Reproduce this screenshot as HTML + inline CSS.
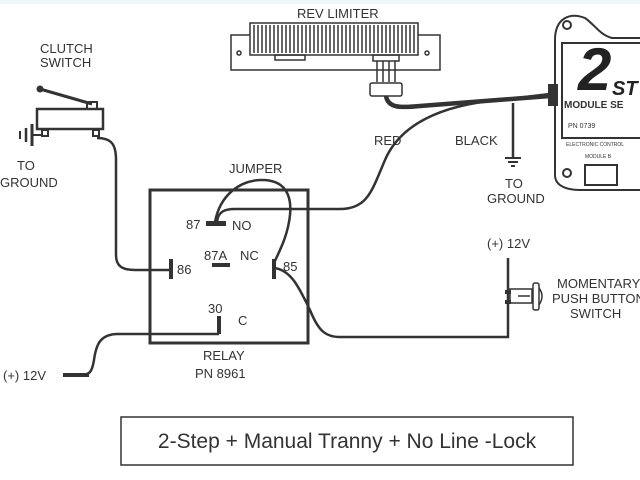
<!DOCTYPE html>
<html><head><style>
html,body{margin:0;padding:0;background:#fff}
svg{display:block}
text{font-family:"Liberation Sans",sans-serif;fill:#333}
</style></head><body>
<svg width="640" height="480" viewBox="0 0 640 480">
<rect x="0" y="0" width="640" height="4" fill="#eef8fb"/>
<g fill="none" stroke="#333" stroke-width="2.5">
<rect x="150" y="190" width="158" height="153" stroke-width="3"/>
<path d="M97,138 C112,138 116,145 116,160 L116,255 C116,266 122,270 135,270 L171,270"/>
<path d="M219,334 L118,334 C100,334 96,345 94,360 C92,372 90,375 80,375 L63,375"/>
<path d="M217,222 C218,212 224,209 235,209 L340,209 C368,209 372,190 385,160 C400,125 440,105 500,100 L550,94"/>
<path d="M215,222 C220,195 240,180 262,180 C285,180 292,195 290,215 C288,235 280,250 274,263"/>
<path d="M274,268 C292,270 300,290 310,310 C318,330 325,337 340,337 L508,337 L508,258"/>
<path d="M386,96 C388,108 400,108 420,106 L550,96" stroke-width="4.5"/>
<path d="M513,103 L513,157"/>
</g>
<g fill="#333">
<rect x="206" y="221" width="20" height="5"/>
<rect x="212" y="263" width="18" height="4"/>
<rect x="169" y="259" width="4" height="20"/>
<rect x="272" y="259" width="4" height="20"/>
<rect x="217" y="316" width="4" height="18"/>
<rect x="63" y="373" width="26" height="4"/>
<rect x="505" y="157" width="16" height="2"/>
<rect x="508" y="161" width="10" height="2"/>
<rect x="511" y="165" width="4" height="2"/>
</g>
<text x="186" y="229" font-size="13">87</text>
<text x="232" y="230" font-size="13">NO</text>
<text x="204" y="260" font-size="13">87A</text>
<text x="240" y="260" font-size="13">NC</text>
<text x="177" y="274" font-size="13">86</text>
<text x="283" y="271" font-size="13">85</text>
<text x="208" y="313" font-size="13">30</text>
<text x="238" y="325" font-size="13">C</text>
<text x="203" y="360" font-size="13">RELAY</text>
<text x="195" y="378" font-size="13">PN 8961</text>
<text x="229" y="173" font-size="13">JUMPER</text>
<text x="3" y="380" font-size="13">(+) 12V</text>
<text x="40" y="53" font-size="13">CLUTCH</text>
<text x="40" y="67" font-size="13">SWITCH</text>
<text x="17" y="170" font-size="13">TO</text>
<text x="0" y="187" font-size="13">GROUND</text>
<text x="297" y="18" font-size="13">REV LIMITER</text>
<text x="374" y="145" font-size="13">RED</text>
<text x="455" y="145" font-size="13">BLACK</text>
<text x="505" y="188" font-size="13">TO</text>
<text x="487" y="203" font-size="13">GROUND</text>
<text x="487" y="248" font-size="13">(+) 12V</text>
<text x="557" y="288" font-size="13">MOMENTARY</text>
<text x="552" y="303" font-size="13">PUSH BUTTON</text>
<text x="570" y="318" font-size="13">SWITCH</text>
<g stroke="#333" fill="none" stroke-width="2">
<rect x="37" y="109" width="66" height="20" stroke-width="2.5"/>
<line x1="40" y1="89" x2="92" y2="104" stroke-width="3"/>
<rect x="87" y="102" width="10" height="7"/>
<rect x="93" y="130" width="6" height="6"/>
<rect x="42" y="130" width="6" height="6"/>
<line x1="32" y1="124" x2="32" y2="146" stroke-width="3"/>
<line x1="26" y1="128" x2="26" y2="142" stroke-width="2.5"/>
<line x1="20" y1="131" x2="20" y2="139" stroke-width="2"/>
<line x1="32" y1="135" x2="42" y2="135"/>
</g>
<circle cx="40" cy="89" r="3.5" fill="#333"/>
<g stroke="#333" fill="none" stroke-width="1.5">
<rect x="231" y="35" width="209" height="35"/>
<rect x="250" y="23" width="168" height="32" fill="#fff"/>
<rect x="373" y="55" width="26" height="6"/>
<line x1="377" y1="61" x2="377" y2="82"/><line x1="383" y1="61" x2="383" y2="82"/><line x1="389" y1="61" x2="389" y2="82"/><line x1="395" y1="61" x2="395" y2="82"/>
<rect x="370" y="83" width="32" height="13" rx="2" fill="#fff"/>
<rect x="275" y="55" width="30" height="5"/>
<circle cx="239" cy="53" r="2"/><circle cx="427" cy="53" r="2"/>
</g>
<g stroke="#333" stroke-width="1.5">
<path d="M254,25V53M258,25V53M262,25V53M266,25V53M270,25V53M274,25V53M278,25V53M282,25V53M286,25V53M290,25V53M294,25V53M298,25V53M302,25V53M306,25V53M310,25V53M314,25V53M318,25V53M322,25V53M326,25V53M330,25V53M334,25V53M338,25V53M342,25V53M346,25V53M350,25V53M354,25V53M358,25V53M362,25V53M366,25V53M370,25V53M374,25V53M378,25V53M382,25V53M386,25V53M390,25V53M394,25V53M398,25V53M402,25V53M406,25V53M410,25V53M414,25V53"/>
</g>
<g stroke="#333" fill="none" stroke-width="2">
<path d="M555,40 C555,18 570,12 585,18 C595,25 600,35 612,38 L640,38"/>
<path d="M555,40 L555,175 C555,185 565,190 580,190 L640,190"/>
<rect x="562" y="43" width="80" height="95"/>
<circle cx="567" cy="25" r="4"/>
<circle cx="567" cy="173" r="4"/>
<rect x="585" y="165" width="32" height="20"/>
</g>
<rect x="548" y="84" width="10" height="22" fill="#333"/>
<text x="578" y="90" font-size="60" font-weight="bold" font-style="italic" style="fill:#222">2</text>
<text x="612" y="95" font-size="20" font-weight="bold" font-style="italic" style="fill:#222">ST</text>
<text x="564" y="108" font-size="10" font-weight="bold">MODULE SE</text>
<text x="568" y="128" font-size="7">PN 0739</text>
<text x="566" y="146" font-size="5">ELECTRONIC CONTROL</text>
<text x="585" y="158" font-size="5">MODULE B</text>
<g stroke="#333" fill="none" stroke-width="1.5">
<rect x="510" y="289" width="22" height="14"/>
<line x1="518" y1="296" x2="530" y2="296"/>
<rect x="533" y="283" width="6" height="27" rx="2"/>
<path d="M539,288 Q545,296 539,305"/>
</g>
<rect x="505" y="290" width="6" height="4" fill="#333"/>
<rect x="505" y="300" width="6" height="4" fill="#333"/>
<rect x="121" y="417" width="452" height="48" fill="none" stroke="#333" stroke-width="1.5"/>
<text x="347" y="448" font-size="21" text-anchor="middle">2-Step + Manual Tranny + No Line -Lock</text>
</svg>
</body></html>
